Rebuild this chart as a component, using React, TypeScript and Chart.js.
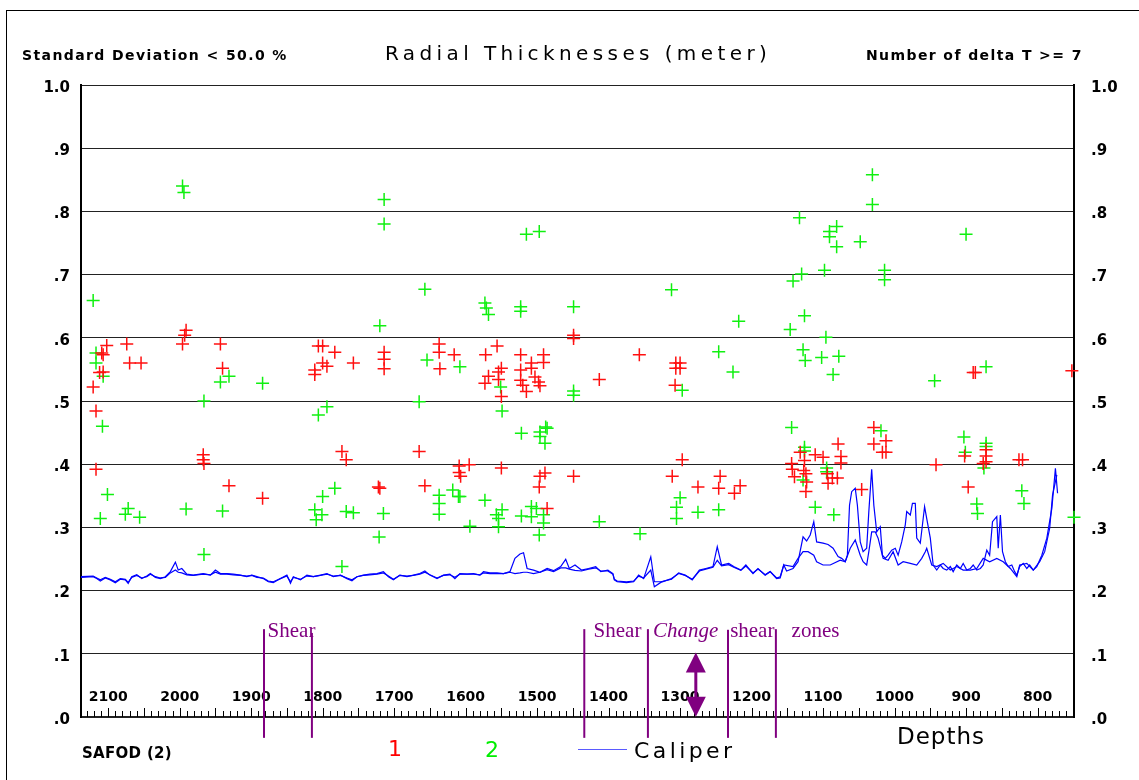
import React, { useEffect, useRef } from "react";
import { Chart, registerables } from "chart.js";

Chart.register(...registerables);

// ---------- axis ranges & ticks ----------
const depthMin = 749;
const depthMax = 2138;
const depthTickLabels = [2100, 2000, 1900, 1800, 1700, 1600, 1500, 1400, 1300, 1200, 1100, 1000, 900, 800];
const yTickValues = [0, 0.1, 0.2, 0.3, 0.4, 0.5, 0.6, 0.7, 0.8, 0.9, 1.0];

// ---------- series 1 (red) : [depth, radial thickness] ----------
const series1Points: [number, number][] = [
  [1991, 0.612], [1993, 0.604], [1996, 0.590], [2102, 0.588], [2074, 0.590], [1943, 0.590],
  [2109, 0.576], [2107, 0.573], [2070, 0.560], [2054, 0.560], [2112, 0.545], [2107, 0.546],
  [1940, 0.552], [2121, 0.522], [2117, 0.484], [1967, 0.415], [1967, 0.407], [1966, 0.401],
  [2117, 0.392], [1931, 0.366], [1884, 0.346], [1806, 0.587], [1800, 0.587], [1783, 0.577],
  [1757, 0.560], [1800, 0.560], [1794, 0.555], [1811, 0.549], [1811, 0.542], [1773, 0.420],
  [1767, 0.407], [1665, 0.420], [1722, 0.364], [1720, 0.362], [1657, 0.366], [1609, 0.397],
  [1609, 0.387], [1607, 0.381], [1595, 0.399], [1550, 0.394], [1496, 0.381], [1489, 0.386],
  [1497, 0.364], [1486, 0.330], [1449, 0.381], [1714, 0.577], [1714, 0.566], [1714, 0.551],
  [1637, 0.590], [1637, 0.577], [1616, 0.573], [1556, 0.587], [1572, 0.573], [1523, 0.573],
  [1491, 0.573], [1636, 0.551], [1550, 0.552], [1554, 0.546], [1568, 0.539], [1573, 0.528],
  [1554, 0.534], [1523, 0.549], [1523, 0.533], [1520, 0.525], [1508, 0.560], [1508, 0.552],
  [1491, 0.561], [1503, 0.538], [1498, 0.530], [1496, 0.524], [1515, 0.515], [1550, 0.507],
  [1449, 0.604], [1449, 0.599], [1357, 0.573], [1413, 0.534], [1306, 0.560], [1300, 0.560],
  [1306, 0.552], [1300, 0.552], [1307, 0.525], [1311, 0.381], [1297, 0.407], [1275, 0.364],
  [1246, 0.362], [1244, 0.381], [1224, 0.354], [1216, 0.366], [1144, 0.401], [1143, 0.392],
  [1140, 0.380], [1132, 0.419], [1126, 0.406], [1127, 0.390], [1124, 0.385], [1123, 0.372],
  [1124, 0.357], [1111, 0.415], [1100, 0.411], [1094, 0.385], [1087, 0.378], [1080, 0.378],
  [1093, 0.370], [1079, 0.432], [1075, 0.412], [1075, 0.402], [1046, 0.360], [1029, 0.458],
  [1029, 0.432], [1012, 0.437], [1017, 0.419], [1012, 0.419], [942, 0.399], [902, 0.413],
  [897, 0.364], [872, 0.423], [872, 0.413], [872, 0.404], [876, 0.401], [821, 0.407],
  [826, 0.407], [890, 0.545], [887, 0.545], [752, 0.548],
];

// ---------- series 2 (green) ----------
const series2Points: [number, number][] = [
  [1996, 0.840], [1994, 0.830], [2121, 0.659], [2117, 0.576], [2117, 0.560], [2107, 0.539],
  [1931, 0.539], [1943, 0.530], [1884, 0.528], [1966, 0.500], [2108, 0.460], [1794, 0.491],
  [1806, 0.478], [2101, 0.352], [2072, 0.330], [2076, 0.321], [2056, 0.316], [2111, 0.314],
  [1991, 0.329], [1966, 0.257], [1940, 0.326], [1811, 0.328], [1801, 0.320], [1809, 0.312],
  [1800, 0.349], [1783, 0.362], [1767, 0.325], [1757, 0.323], [1773, 0.238], [1715, 0.322],
  [1721, 0.285], [1665, 0.499], [1637, 0.351], [1637, 0.338], [1637, 0.321], [1618, 0.359],
  [1610, 0.349], [1608, 0.349], [1594, 0.302], [1573, 0.343], [1549, 0.328], [1557, 0.320],
  [1554, 0.314], [1554, 0.301], [1549, 0.484], [1522, 0.449], [1496, 0.451], [1496, 0.444],
  [1488, 0.459], [1486, 0.457], [1489, 0.433], [1508, 0.333], [1501, 0.330], [1522, 0.318],
  [1508, 0.317], [1491, 0.320], [1491, 0.307], [1497, 0.288], [1714, 0.819], [1714, 0.780],
  [1515, 0.764], [1497, 0.768], [1657, 0.677], [1573, 0.655], [1571, 0.647], [1568, 0.637],
  [1523, 0.649], [1523, 0.642], [1449, 0.649], [1720, 0.619], [1654, 0.565], [1608, 0.554],
  [1551, 0.522], [1449, 0.516], [1449, 0.509], [1312, 0.676], [1297, 0.517], [1246, 0.578],
  [1226, 0.546], [1218, 0.626], [1133, 0.790], [1091, 0.768], [1091, 0.760], [1081, 0.776],
  [1081, 0.744], [1098, 0.707], [1142, 0.690], [1130, 0.701], [1126, 0.635], [1146, 0.613],
  [1096, 0.601], [1128, 0.581], [1125, 0.564], [1102, 0.569], [1078, 0.571], [1086, 0.542],
  [1144, 0.458], [1031, 0.858], [1031, 0.811], [1048, 0.752], [900, 0.764], [1014, 0.707],
  [1014, 0.692], [944, 0.532], [872, 0.554], [1019, 0.453], [903, 0.443], [1126, 0.427],
  [1126, 0.421], [1128, 0.375], [1095, 0.394], [1095, 0.388], [1111, 0.332], [1085, 0.320],
  [901, 0.419], [872, 0.433], [872, 0.428], [875, 0.394], [885, 0.337], [884, 0.322],
  [822, 0.358], [819, 0.338], [749, 0.316], [1413, 0.309], [1356, 0.290], [1305, 0.332],
  [1300, 0.347], [1305, 0.314], [1275, 0.324], [1246, 0.328],
];

// ---------- caliper arms ----------
const caliperArm1: [number, number][] = [
  [2138, 0.221], [2121, 0.222], [2116, 0.219], [2111, 0.215], [2104, 0.220], [2097, 0.217],
  [2090, 0.2125], [2083, 0.218], [2076, 0.217], [2072, 0.2115], [2067, 0.222], [2060, 0.225],
  [2053, 0.219], [2046, 0.223], [2041, 0.227], [2034, 0.221], [2027, 0.219], [2020, 0.222],
  [2013, 0.230], [2006, 0.245], [2002, 0.2325], [1997, 0.235], [1990, 0.226], [1981, 0.2245],
  [1967, 0.227], [1957, 0.2245], [1950, 0.2325], [1943, 0.227], [1934, 0.227], [1925, 0.226],
  [1915, 0.2245], [1906, 0.222], [1899, 0.2245], [1892, 0.222], [1883, 0.219], [1876, 0.214],
  [1869, 0.2125], [1859, 0.219], [1850, 0.2245], [1845, 0.2115], [1841, 0.222], [1831, 0.217],
  [1822, 0.2245], [1813, 0.222], [1803, 0.2245], [1794, 0.227], [1785, 0.222], [1775, 0.2245],
  [1766, 0.219], [1759, 0.2155], [1752, 0.222], [1743, 0.2245], [1734, 0.226], [1724, 0.227],
  [1715, 0.230], [1708, 0.222], [1701, 0.217], [1692, 0.2245], [1682, 0.222], [1673, 0.2245],
  [1664, 0.227], [1657, 0.231], [1650, 0.2245], [1640, 0.219], [1631, 0.2245], [1622, 0.226],
  [1615, 0.219], [1608, 0.227], [1598, 0.226], [1589, 0.227], [1580, 0.2245], [1575, 0.230],
  [1566, 0.228], [1556, 0.228], [1547, 0.227], [1538, 0.230], [1531, 0.251], [1524, 0.258],
  [1519, 0.260], [1514, 0.235], [1505, 0.2325], [1496, 0.229], [1486, 0.235], [1477, 0.2315],
  [1467, 0.238], [1460, 0.2495], [1455, 0.235], [1447, 0.2405], [1438, 0.2325], [1428, 0.235],
  [1418, 0.238], [1411, 0.230], [1401, 0.2325], [1394, 0.227], [1392, 0.217], [1388, 0.214],
  [1375, 0.2125], [1365, 0.214], [1358, 0.2245], [1351, 0.219], [1341, 0.2535], [1336, 0.214],
  [1327, 0.214], [1312, 0.218], [1302, 0.228], [1293, 0.2245], [1283, 0.217], [1273, 0.2325],
  [1264, 0.235], [1254, 0.238], [1248, 0.2695], [1242, 0.2405], [1232, 0.243], [1225, 0.238],
  [1215, 0.2325], [1208, 0.2405], [1198, 0.227], [1191, 0.235], [1181, 0.2245], [1174, 0.230],
  [1165, 0.220], [1160, 0.222], [1155, 0.2405], [1151, 0.231], [1142, 0.235], [1135, 0.2457],
  [1128, 0.285], [1123, 0.2785], [1118, 0.288], [1113, 0.309], [1109, 0.277], [1100, 0.275],
  [1093, 0.273], [1086, 0.267], [1079, 0.2537], [1074, 0.251], [1069, 0.2457], [1066, 0.256],
  [1063, 0.335], [1060, 0.3565], [1055, 0.362], [1052, 0.335], [1048, 0.277], [1044, 0.2616],
  [1039, 0.267], [1036, 0.325], [1032, 0.392], [1029, 0.335], [1025, 0.293], [1020, 0.301],
  [1017, 0.256], [1013, 0.251], [1009, 0.256], [1004, 0.264], [999, 0.267], [995, 0.256],
  [990, 0.277], [985, 0.304], [983, 0.325], [978, 0.3196], [975, 0.338], [971, 0.338],
  [969, 0.283], [964, 0.275], [958, 0.333], [955, 0.314], [950, 0.283], [946, 0.2405],
  [941, 0.2325], [936, 0.2405], [932, 0.235], [927, 0.2325], [922, 0.238], [918, 0.230],
  [913, 0.2405], [908, 0.235], [904, 0.243], [899, 0.2325], [894, 0.235], [890, 0.2405],
  [885, 0.2325], [880, 0.235], [876, 0.2405], [871, 0.264], [867, 0.256], [863, 0.309],
  [857, 0.317], [855, 0.267], [852, 0.3196], [849, 0.2616], [845, 0.2457], [841, 0.238],
  [836, 0.2405], [832, 0.230], [829, 0.2245], [825, 0.238], [820, 0.243], [815, 0.235],
  [811, 0.2405], [806, 0.2325], [801, 0.238], [794, 0.256], [787, 0.283], [780, 0.330],
  [775, 0.3935], [772, 0.354],
];

const caliperArm2: [number, number][] = [
  [2138, 0.222], [2121, 0.223], [2116, 0.220], [2111, 0.217], [2104, 0.221], [2097, 0.218],
  [2090, 0.214], [2083, 0.219], [2076, 0.218], [2072, 0.213], [2067, 0.221], [2060, 0.224],
  [2053, 0.220], [2046, 0.222], [2041, 0.226], [2034, 0.222], [2027, 0.220], [2020, 0.221],
  [2013, 0.228], [2006, 0.2325], [2002, 0.229], [1997, 0.228], [1990, 0.225], [1981, 0.224],
  [1967, 0.226], [1957, 0.225], [1950, 0.229], [1943, 0.226], [1934, 0.226], [1925, 0.225],
  [1915, 0.224], [1906, 0.223], [1899, 0.224], [1892, 0.221], [1883, 0.220], [1876, 0.215],
  [1869, 0.214], [1859, 0.219], [1850, 0.223], [1845, 0.214], [1841, 0.221], [1831, 0.218],
  [1822, 0.223], [1813, 0.222], [1803, 0.224], [1794, 0.226], [1785, 0.223], [1775, 0.224],
  [1766, 0.220], [1759, 0.217], [1752, 0.222], [1743, 0.224], [1734, 0.225], [1724, 0.226],
  [1715, 0.228], [1708, 0.223], [1701, 0.218], [1692, 0.224], [1682, 0.223], [1673, 0.224],
  [1664, 0.226], [1657, 0.229], [1650, 0.225], [1640, 0.220], [1631, 0.224], [1622, 0.225],
  [1615, 0.221], [1608, 0.226], [1598, 0.226], [1589, 0.226], [1580, 0.225], [1575, 0.228],
  [1566, 0.227], [1556, 0.227], [1547, 0.227], [1538, 0.229], [1531, 0.227], [1524, 0.228],
  [1519, 0.229], [1514, 0.229], [1505, 0.227], [1496, 0.229], [1486, 0.233], [1477, 0.230],
  [1467, 0.236], [1460, 0.236], [1455, 0.234], [1447, 0.232], [1438, 0.231], [1428, 0.234],
  [1418, 0.236], [1411, 0.231], [1401, 0.231], [1394, 0.226], [1392, 0.218], [1388, 0.215],
  [1375, 0.214], [1365, 0.215], [1358, 0.223], [1351, 0.220], [1341, 0.2325], [1336, 0.206],
  [1327, 0.213], [1312, 0.219], [1302, 0.227], [1293, 0.224], [1283, 0.218], [1273, 0.231],
  [1264, 0.234], [1254, 0.237], [1248, 0.248], [1242, 0.239], [1232, 0.241], [1225, 0.237],
  [1215, 0.232], [1208, 0.239], [1198, 0.228], [1191, 0.234], [1181, 0.225], [1174, 0.230],
  [1165, 0.219], [1160, 0.220], [1155, 0.2405], [1142, 0.238], [1135, 0.251], [1128, 0.2616],
  [1121, 0.2616], [1113, 0.256], [1109, 0.2457], [1100, 0.2405], [1090, 0.2405], [1076, 0.248],
  [1069, 0.2457], [1062, 0.267], [1055, 0.280], [1048, 0.256], [1044, 0.2457], [1039, 0.2405],
  [1036, 0.2616], [1032, 0.293], [1027, 0.293], [1023, 0.283], [1016, 0.251], [1009, 0.248],
  [1002, 0.2616], [995, 0.2405], [988, 0.2457], [978, 0.243], [969, 0.2405], [962, 0.251],
  [957, 0.2616], [955, 0.267], [948, 0.2405], [941, 0.238], [932, 0.243], [922, 0.2325],
  [913, 0.238], [904, 0.2325], [894, 0.2325], [885, 0.235], [876, 0.251], [867, 0.2457],
  [857, 0.251], [848, 0.2457], [838, 0.235], [829, 0.222], [825, 0.2405], [815, 0.243],
  [806, 0.2325], [797, 0.2457], [790, 0.2616], [783, 0.2986], [779, 0.351], [773, 0.383],
];

// ---------- shear-zone annotations ----------
const zoneLineDepths = [1882, 1815, 1434, 1345, 1233, 1166];
const zoneLineTops = [0.139, 0.133, 0.139, 0.139, 0.138, 0.139];
const zoneLineBottom = -0.033;
const zoneLabels = ["Shear", "Shear", "Change", "shear", "zones"];
const zoneLabelDepths = [1877, 1421, 1338, 1230, 1144];
const zoneLabelItalic = [false, false, true, false, false];
const zoneLabelValue = 0.127;
const arrowDepth = 1278;
const arrowTopValue = 0.102;
const arrowBottomValue = 0.0005;

const PURPLE = "#800080";
const FONT = '"DejaVu Sans", sans-serif';

const toXY = (pts: [number, number][]) => pts.map(([x, y]) => ({ x, y }));

const overlayPlugin = {
  id: "overlay",
  afterDraw(chart: any) {
    const { ctx, scales } = chart;
    const xs = scales.x;
    const ys = scales.y;
    const y0 = ys.getPixelForValue(0);
    ctx.save();
    // depth minor/major ticks, pointing up into the plot
    ctx.strokeStyle = "#000";
    ctx.lineWidth = 1;
    for (let d = 750; d <= 2130; d += 10) {
      const x = Math.round(xs.getPixelForValue(d)) + 0.5;
      const len = d % 50 === 0 ? 9 : 6;
      ctx.beginPath();
      ctx.moveTo(x, y0);
      ctx.lineTo(x, y0 - len);
      ctx.stroke();
    }
    // depth labels inside the plot
    ctx.fillStyle = "#000";
    ctx.font = `bold 14px ${FONT}`;
    ctx.textAlign = "center";
    ctx.textBaseline = "middle";
    depthTickLabels.forEach((d) => {
      ctx.fillText(String(d), xs.getPixelForValue(d), y0 - 20);
    });
    // purple zone lines
    ctx.strokeStyle = PURPLE;
    ctx.lineWidth = 2;
    zoneLineDepths.forEach((d, i) => {
      const x = xs.getPixelForValue(d);
      ctx.beginPath();
      ctx.moveTo(x, ys.getPixelForValue(zoneLineTops[i]));
      ctx.lineTo(x, ys.getPixelForValue(zoneLineBottom));
      ctx.stroke();
    });
    // labels
    ctx.fillStyle = PURPLE;
    ctx.textAlign = "left";
    ctx.textBaseline = "alphabetic";
    zoneLabels.forEach((t, i) => {
      ctx.font = `${zoneLabelItalic[i] ? "italic " : ""}21px "Liberation Serif", serif`;
      ctx.fillText(t, xs.getPixelForValue(zoneLabelDepths[i]), ys.getPixelForValue(zoneLabelValue));
    });
    // double arrow
    const ax = xs.getPixelForValue(arrowDepth);
    const at = ys.getPixelForValue(arrowTopValue);
    const ab = ys.getPixelForValue(arrowBottomValue);
    const head = 20;
    const half = 10;
    ctx.lineWidth = 3;
    ctx.beginPath();
    ctx.moveTo(ax, at + head - 1);
    ctx.lineTo(ax, ab - head + 1);
    ctx.stroke();
    ctx.beginPath();
    ctx.moveTo(ax, at);
    ctx.lineTo(ax - half, at + head);
    ctx.lineTo(ax + half, at + head);
    ctx.closePath();
    ctx.fill();
    ctx.beginPath();
    ctx.moveTo(ax, ab);
    ctx.lineTo(ax - half, ab - head);
    ctx.lineTo(ax + half, ab - head);
    ctx.closePath();
    ctx.fill();
    ctx.restore();
  },
};

const yTickFormat = (v: any) => (Number(v) >= 0.999 ? "1.0" : "." + Math.round(Number(v) * 10));

export default function App() {
  const canvasRef = useRef<HTMLCanvasElement | null>(null);

  useEffect(() => {
    if (!canvasRef.current) return;
    const setTicks = (s: any) => {
      s.ticks = yTickValues.map((v) => ({ value: v }));
    };
    const chart = new Chart(canvasRef.current, {
      type: "scatter",
      data: {
        datasets: [
          {
            label: "Caliper arm 1",
            data: toXY(caliperArm1),
            showLine: true,
            borderColor: "#0000ff",
            borderWidth: 1.2,
            pointRadius: 0,
            fill: false,
            tension: 0,
          } as any,
          {
            label: "Caliper arm 2",
            data: toXY(caliperArm2),
            showLine: true,
            borderColor: "#0000ff",
            borderWidth: 1.2,
            pointRadius: 0,
            fill: false,
            tension: 0,
          } as any,
          {
            label: "1",
            data: toXY(series1Points),
            pointStyle: "cross",
            pointRadius: 6.5,
            borderColor: "#ff1010",
            backgroundColor: "#ff1010",
            borderWidth: 1.5,
            clip: false,
          } as any,
          {
            label: "2",
            data: toXY(series2Points),
            pointStyle: "cross",
            pointRadius: 6.5,
            borderColor: "#10f010",
            backgroundColor: "#10f010",
            borderWidth: 1.5,
            clip: false,
          } as any,
        ],
      },
      options: {
        responsive: false,
        animation: false,
        devicePixelRatio: 1,
        events: [],
        layout: { padding: { top: 85, bottom: 63, left: 0, right: 0 } },
        plugins: {
          legend: { display: false },
          tooltip: { enabled: false },
          title: { display: false },
        },
        scales: {
          x: {
            type: "linear",
            min: depthMin,
            max: depthMax,
            reverse: true,
            display: false,
          },
          y: {
            type: "linear",
            position: "left",
            min: 0,
            max: 1,
            afterFit: (s: any) => {
              s.width = 81;
            },
            afterBuildTicks: setTicks,
            grid: {
              color: "#222",
              lineWidth: (c: any) => (c.tick && c.tick.value === 0 ? 2 : 1),
              drawTicks: false,
            },
            border: { display: true, color: "#000", width: 2 },
            ticks: {
              callback: yTickFormat,
              font: { family: FONT, size: 15, weight: "bold" },
              color: "#000",
              padding: 11,
              labelOffset: 3,
            },
          },
          y2: {
            type: "linear",
            position: "right",
            min: 0,
            max: 1,
            afterFit: (s: any) => {
              s.width = 65;
            },
            afterBuildTicks: setTicks,
            grid: { display: false, drawTicks: false },
            border: { display: true, color: "#000", width: 2 },
            ticks: {
              callback: yTickFormat,
              font: { family: FONT, size: 15, weight: "bold" },
              color: "#000",
              padding: 17,
              labelOffset: 3,
            },
          },
        },
      } as any,
      plugins: [overlayPlugin],
    });
    return () => chart.destroy();
  }, []);

  const txt = (extra: React.CSSProperties): React.CSSProperties => ({
    position: "absolute",
    whiteSpace: "nowrap",
    lineHeight: "1",
    fontFamily: FONT,
    color: "#000",
    margin: 0,
    ...extra,
  });

  return (
    <div style={{ position: "absolute", left: 0, top: 0, width: 1139, height: 780, background: "#fff", overflow: "hidden" }}>
      <div style={{ position: "absolute", left: 6, top: 10, width: 1200, height: 800, borderLeft: "1px solid #000", borderTop: "1px solid #000" }} />
      <canvas ref={canvasRef} width={1139} height={780} style={{ position: "absolute", left: 0, top: 0, width: 1139, height: 780 }} />
      <div style={txt({ left: 22, top: 48, fontSize: 14, fontWeight: "bold", letterSpacing: "1.4px" })}>Standard Deviation &lt; 50.0 %</div>
      <div style={txt({ left: 385, top: 43, fontSize: 20, letterSpacing: "4.4px" })}>Radial Thicknesses (meter)</div>
      <div style={txt({ left: 866, top: 48, fontSize: 14, fontWeight: "bold", letterSpacing: "1.4px" })}>Number of delta T &gt;= 7</div>
      <div style={txt({ left: 82, top: 746, fontSize: 15, fontWeight: "bold", letterSpacing: "0.3px" })}>SAFOD (2)</div>
      <div style={txt({ left: 388, top: 738, fontSize: 22, color: "#ff0000" })}>1</div>
      <div style={txt({ left: 485, top: 739, fontSize: 22, color: "#00ee00" })}>2</div>
      <div style={{ position: "absolute", left: 578, top: 749, width: 49, height: 0, borderTop: "1.5px solid #5a5aff" }} />
      <div style={txt({ left: 634, top: 740, fontSize: 22, letterSpacing: "3.4px" })}>Caliper</div>
      <div style={txt({ left: 897, top: 725, fontSize: 23, letterSpacing: "1px" })}>Depths</div>
    </div>
  );
}
